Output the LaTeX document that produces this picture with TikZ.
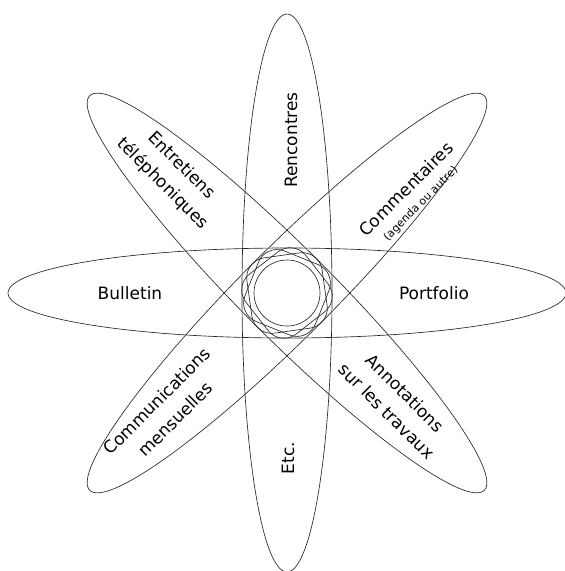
\documentclass[tikz,border=0pt]{standalone}
\usepackage{fontspec}
\setmainfont{DejaVu Sans}
\begin{document}
\begin{tikzpicture}[x=1pt,y=-1pt,
  petal/.style={draw=black!85,line width=0.65pt},
  lbl/.style={font=\fontsize{17}{26}\selectfont, align=center, inner sep=0pt},
  sublbl/.style={font=\fontsize{11}{13}\selectfont, inner sep=0pt}]
\useasboundingbox (0,0) rectangle (565,571);
\coordinate (c) at (287,293);
\foreach \a in {0,45,90,135}
  \draw[petal, rotate around={\a:(c)}] (c) ellipse [x radius=279, y radius=45];
% central knot
\foreach \a in {8,38,68}
  \draw[petal, rotate around={\a:(c)}, rounded corners=20] (249,255) rectangle (325,331);
\draw[petal] (c) circle [radius=33];
% labels
\node[lbl, rotate=90] (renc) at (291,140) {Rencontres};
\node[lbl, rotate=90] (etc) at (288,458) {Etc.};
\node[lbl] (bull) at (130,293) {Bulletin};
\node[lbl] (port) at (434,293) {Portfolio};
\node[lbl, rotate=-45] (entr) at (172,175) {Entretiens\\téléphoniques};
\node[lbl, rotate=45] (comm) at (406,189) {Commentaires};
\node[sublbl, rotate=45] (comsub) at (421,204) {(agenda ou autre)};
\node[lbl, rotate=45] (comu) at (166,410) {Communications\\mensuelles};
\node[lbl, rotate=-45] (anno) at (396,402) {Annotations\\sur les travaux};
\end{tikzpicture}
\end{document}
